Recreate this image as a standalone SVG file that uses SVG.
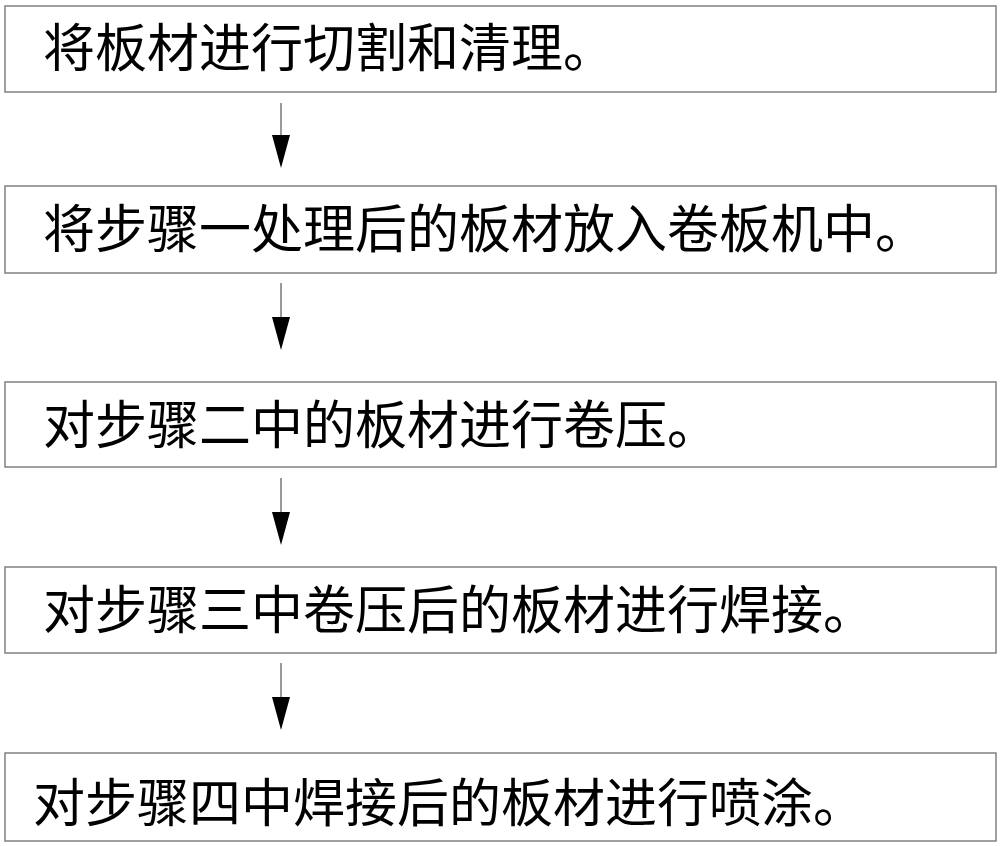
<svg xmlns="http://www.w3.org/2000/svg" width="1000" height="846" viewBox="0 0 1000 846">
<style>
.box{fill:#fff;stroke:#808080;stroke-width:1.5}
.lbl{font-family:"Liberation Serif","Noto Sans CJK SC",serif;font-size:52px;fill:#000}
.ln{stroke:#555;stroke-width:1.2;fill:none}
.hd{fill:#000}
</style>
<rect width="1000" height="846" fill="#fff"/>
<g id="connectors">
<path class="ln" d="M281 103V136"/><path class="hd" d="M272 135H290L281 168Z"/>
<path class="ln" d="M281 283V318"/><path class="hd" d="M272 317H290L281 350Z"/>
<path class="ln" d="M281 478V513"/><path class="hd" d="M272 512H290L281 545Z"/>
<path class="ln" d="M281 663V698"/><path class="hd" d="M272 697H290L281 730Z"/>
</g>
<g id="step1"><rect class="box" x="5" y="6" width="991" height="86"/><text class="lbl" x="43" y="67">将板材进行切割和清理。</text></g>
<g id="step2"><rect class="box" x="5" y="186" width="991" height="87"/><text class="lbl" x="43" y="248">将步骤一处理后的板材放入卷板机中。</text></g>
<g id="step3"><rect class="box" x="5" y="382" width="991" height="85"/><text class="lbl" x="43" y="444">对步骤二中的板材进行卷压。</text></g>
<g id="step4"><rect class="box" x="5" y="567" width="991" height="86"/><text class="lbl" x="43" y="629">对步骤三中卷压后的板材进行焊接。</text></g>
<g id="step5"><rect class="box" x="5" y="753" width="991" height="88"/><text class="lbl" x="33" y="822">对步骤四中焊接后的板材进行喷涂。</text></g>
</svg>
